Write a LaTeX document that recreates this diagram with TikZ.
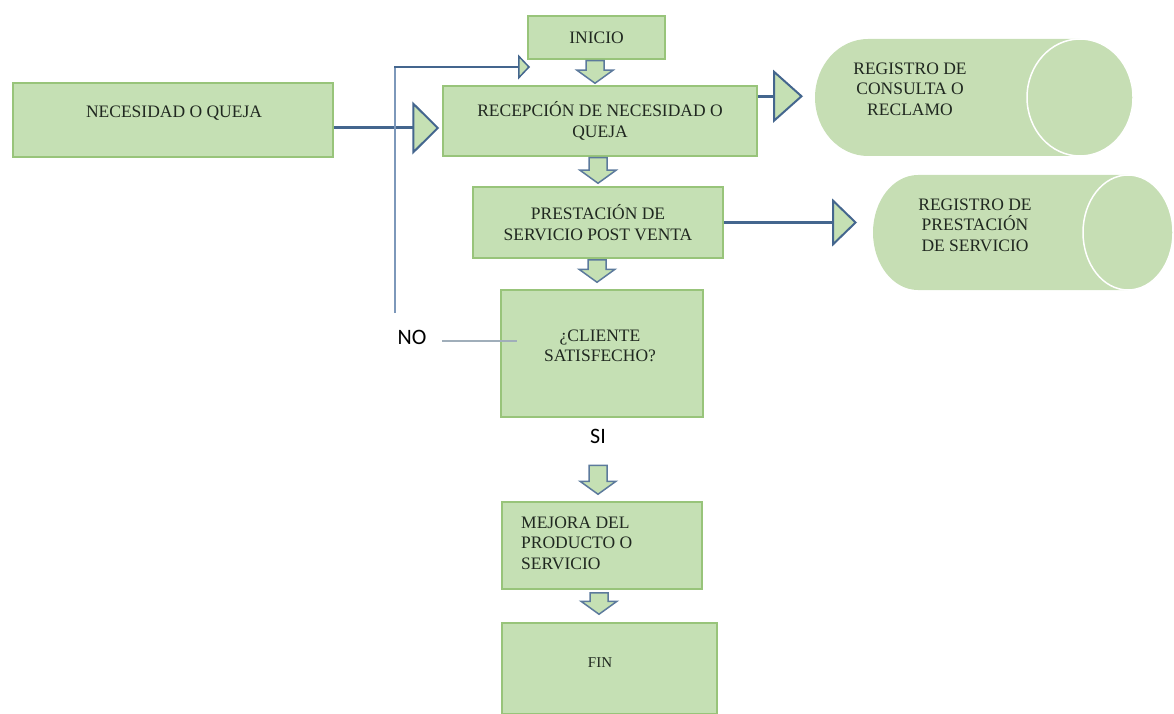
\documentclass[tikz,border=0pt]{standalone}
\usepackage{fontspec}
\setmainfont{Liberation Serif}
\newfontfamily\labelfont{Carlito}
\usetikzlibrary{arrows.meta,calc}

\definecolor{boxfill}{RGB}{197,224,180}
\definecolor{boxdraw}{RGB}{152,196,122}
\definecolor{cylfill}{RGB}{198,222,180}
\definecolor{connblue}{RGB}{68,102,142}
\definecolor{arrowblue}{RGB}{92,122,156}
\definecolor{looplight}{RGB}{125,152,186}
\definecolor{nogray}{RGB}{160,174,186}
\definecolor{ink}{RGB}{32,40,32}

% block arrow pointing down: #1 top centre, #2 point giving the tip height
\newcommand\blockdown[2]{%
  \draw[blockarrow] let \p1=#1, \p2=#2 in
    (\x1-9pt,\y1) -- (\x1+9pt,\y1) -- (\x1+9pt,\y2+13pt) -- (\x1+18pt,\y2+13pt)
    -- (\x1,\y2) -- (\x1-18pt,\y2+13pt) -- (\x1-9pt,\y2+13pt) -- cycle;}

\begin{document}
\begin{tikzpicture}[x=1pt,y=1pt,
  box/.style={draw=boxdraw, fill=boxfill, line width=1.5pt, inner sep=0pt,
    text=ink, font=\fontsize{17.5}{20.5}\selectfont, align=center},
  txt/.style={inner sep=0pt, text=ink, font=\fontsize{17.5}{20.5}\selectfont},
  answer/.style={inner sep=0pt, text=black, font=\labelfont\fontsize{22}{24}\selectfont},
  conn/.style={draw=connblue, line width=3pt},
  blockarrow/.style={draw=arrowblue, fill=boxfill, line width=1.5pt, line join=miter},
  cyl/.style={fill=cylfill},
  cylface/.style={draw=white, line width=1.5pt}
]
\useasboundingbox (0,0) rectangle (1174,-714);

% process boxes
\node[box, minimum width=137pt, minimum height=43pt] (inicio) at (596.5,-37.5) {INICIO};
\node[box, minimum width=320pt, minimum height=74pt] (necesidad) at (173,-120) {};
\node[txt] (necesidad-t) at (174,-113) {NECESIDAD O QUEJA};
\node[box, minimum width=314pt, minimum height=70pt] (recepcion) at (600,-121)
  {RECEPCIÓN DE NECESIDAD O\\QUEJA};
\node[box, minimum width=250pt, minimum height=71pt] (prestacion) at (598,-222.5)
  {PRESTACIÓN DE\\SERVICIO POST VENTA};
\node[box, minimum width=202pt, minimum height=127pt] (cliente) at (602,-353.5) {};
\node[txt, align=center] (cliente-t) at (600,-346) {¿CLIENTE\\SATISFECHO?};
\node[box, minimum width=200pt, minimum height=87pt] (mejora) at (602,-545.5) {};
\node[txt, align=left, anchor=west] (mejora-t) at (521,-543) {MEJORA DEL\\PRODUCTO O\\SERVICIO};
\node[box, minimum width=215pt, minimum height=91pt] (fin) at (609.5,-668.5) {};
\node[txt, font=\fontsize{15}{17}\selectfont] (fin-t) at (600,-663) {FIN};

% record cylinders
\fill[cyl] (868,-39) -- (1080,-39)
  arc[start angle=90, end angle=-90, x radius=53, y radius=58.5]
  -- (868,-156) arc[start angle=-90, end angle=-270, x radius=53, y radius=58.5] -- cycle;
\draw[cylface] (1080,-97.5) ellipse[x radius=53, y radius=58.5];
\node[txt, align=center] (registro1) at (910,-89) {REGISTRO DE\\CONSULTA O\\RECLAMO};
\coordinate (registro1-w) at (815,-97.5);

\fill[cyl] (918,-175) -- (1128,-175)
  arc[start angle=90, end angle=-90, x radius=45, y radius=57.5]
  -- (918,-290) arc[start angle=-90, end angle=-270, x radius=45, y radius=57.5] -- cycle;
\draw[cylface] (1128,-232.5) ellipse[x radius=45, y radius=57.5];
\node[txt, align=center] (registro2) at (975,-225) {REGISTRO DE\\PRESTACIÓN\\DE SERVICIO};
\coordinate (registro2-w) at (873,-232.5);

% decision labels
\node[answer] (no) at (412,-337) {NO};
\node[answer] (si) at (598,-436) {SI};

% horizontal connectors with triangular heads
\coordinate (c1a) at ($(necesidad.east)+(0,-8)$);
\coordinate (c1b) at (c1a -| recepcion.west);
\draw[conn, -{Triangle[length=27pt,width=53pt,fill=boxfill,line width=2pt]}]
  (c1a) -- ($(c1b)+(-3,0)$);

\coordinate (c2a) at ($(recepcion.north east)+(0,-11)$);
\coordinate (c2b) at (c2a -| registro1-w);
\draw[conn, -{Triangle[length=30pt,width=53pt,fill=boxfill,line width=2pt]}]
  (c2a) -- ($(c2b)+(-12,0)$);

\coordinate (c3a) at (prestacion.east);
\coordinate (c3b) at (c3a -| registro2-w);
\draw[conn, -{Triangle[length=25pt,width=48pt,fill=boxfill,line width=2pt]}]
  (c3a) -- ($(c3b)+(-16,0)$);

% return path for a negative answer
\coordinate (loop-low) at (395,-313);
\coordinate (loop-high) at (395,-67);
\coordinate (loop-end) at (530,-67);
\draw[draw=looplight, line width=1.5pt] (loop-low) -- (loop-high);
\draw[draw=connblue, line width=2.2pt, -{Triangle[length=12pt,width=25pt,fill=boxfill,line width=1.5pt]}]
  ($(loop-high)+(-0.75,0)$) -- (loop-end);
\coordinate (no-a) at (442,-341);
\coordinate (no-b) at (517,-341);
\draw[draw=nogray, line width=1.2pt] (no-a) -- (no-b);

% block arrows along the main flow
\blockdown{($(inicio.south)+(-1.5,-1)$)}{($(recepcion.north)+(0,2)$)}
\blockdown{($(recepcion.south)+(-2,-1)$)}{($(prestacion.north)+(0,3)$)}
\blockdown{($(prestacion.south)+(-1,-1)$)}{($(cliente.north)+(0,7)$)}
\blockdown{($(si.south)+(0,-22)$)}{($(mejora.north)+(0,7)$)}
\blockdown{($(mejora.south)+(-3,-3)$)}{($(fin.north)+(0,8)$)}
\end{tikzpicture}
\end{document}
